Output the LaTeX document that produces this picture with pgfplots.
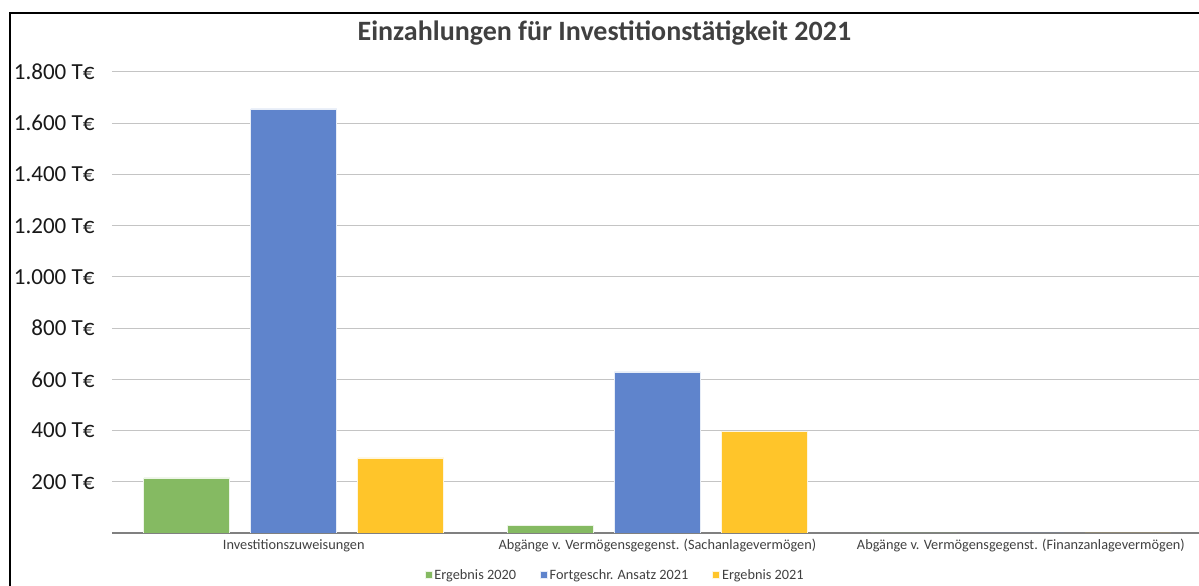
\documentclass[border=0pt]{standalone}
\usepackage{fontspec}
\setmainfont{Carlito}
\usepackage{pgfplots}
\pgfplotsset{compat=1.18}

\definecolor{cgreen}{HTML}{85BA62}
\definecolor{cblue}{HTML}{5F84CC}
\definecolor{cyellow}{HTML}{FFC52A}
\definecolor{cgrid}{HTML}{C4C4C4}
\definecolor{ctext}{HTML}{404040}

\begin{document}
\begin{tikzpicture}
\useasboundingbox (0,0) rectangle (1199pt,586pt);
\begin{axis}[
  at={(112pt,53pt)}, anchor=south west,
  scale only axis, width=1087pt, height=461pt,
  ybar=21pt, bar width=86pt,
  xmin=-0.5, xmax=2.49, ymin=0, ymax=1800,
  xtick={0,1,2},
  xticklabels={Investitionszuweisungen,
    Abgänge v. Vermögensgegenst. (Sachanlagevermögen),
    Abgänge v. Vermögensgegenst. (Finanzanlagevermögen)},
  ytick={200,400,...,1800},
  yticklabels={200 T€,400 T€,600 T€,800 T€,1.000 T€,1.200 T€,1.400 T€,1.600 T€,1.800 T€},
  major tick length=0pt,
  ymajorgrids, grid style={cgrid, line width=1pt},
  axis x line*=bottom, axis y line*=left,
  y axis line style={draw=none},
  x axis line style={draw=gray, line width=1.2pt, -},
  yticklabel style={font=\fontsize{23}{26}\selectfont, text=black!90, xshift=-14pt},
  xticklabel style={font=\fontsize{14.3}{16}\selectfont, text=ctext, yshift=-3pt},
  title={Einzahlungen für Investitionstätigkeit 2021},
  title style={font=\fontsize{28}{32}\selectfont\bfseries, text=ctext,
    at={(axis description cs:0.453,1.056)}, anchor=base},
  legend style={draw=none, fill=none, font=\fontsize{14.3}{16}\selectfont,
    text=ctext, at={(axis description cs:0.463,-0.091)}, anchor=center,
    legend columns=3, /tikz/every even column/.append style={column sep=22pt}},
  legend image code/.code={\fill[#1] (0pt,-3.5pt) rectangle (7pt,3.5pt);},
]
\addplot[fill=cgreen, draw=white!85!cgreen, line width=0.6pt] coordinates {(0,215) (1,31) (2,0)};
\addlegendentry{Ergebnis 2020}
\addplot[fill=cblue, draw=white!85!cblue, line width=0.6pt] coordinates {(0,1656) (1,629) (2,0)};
\addlegendentry{Fortgeschr. Ansatz 2021}
\addplot[fill=cyellow, draw=white!85!cyellow, line width=0.6pt] coordinates {(0,293) (1,398) (2,0)};
\addlegendentry{Ergebnis 2021}
\end{axis}
\draw[black, line width=1.5pt] (10pt,-5pt) -- (10pt,573pt) -- (1210pt,573pt);
\end{tikzpicture}
\end{document}
